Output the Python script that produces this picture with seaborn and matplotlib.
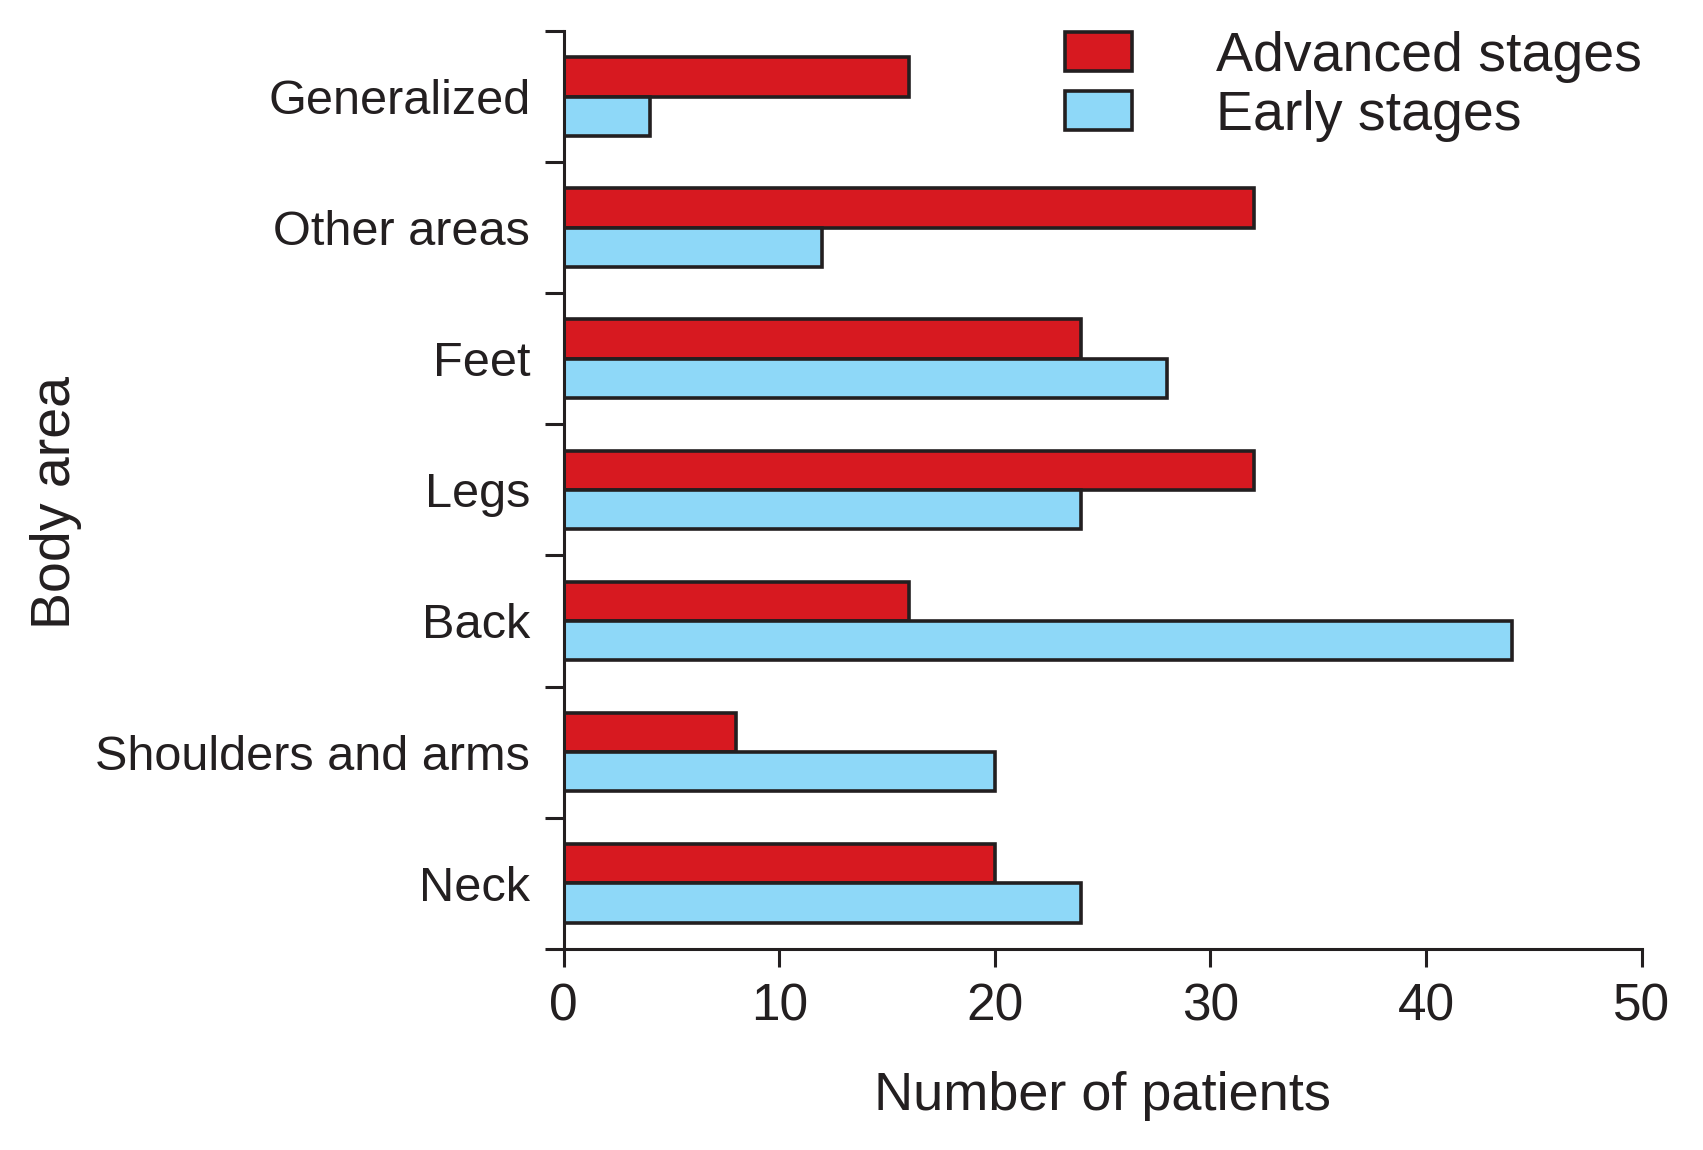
import matplotlib
matplotlib.use("Agg")
import matplotlib.pyplot as plt
import seaborn as sns
import pandas as pd
from matplotlib.ticker import FixedLocator

# dados
areas = ["Generalized", "Other areas", "Feet", "Legs", "Back", "Shoulders and arms", "Neck"]
advanced = [16, 32, 24, 32, 16, 8, 20]
early = [4, 12, 28, 24, 44, 20, 24]
stages = ["Advanced stages", "Early stages"]
x_ticks = [0, 10, 20, 30, 40, 50]

df = pd.DataFrame({
    "area": areas * 2,
    "stage": [stages[0]] * len(areas) + [stages[1]] * len(areas),
    "n": advanced + early,
})

sns.set_style("ticks")
plt.rcParams['font.family'] = ['Liberation Sans', 'DejaVu Sans']
ink = "#231F20"

fig = plt.figure(figsize=(17.03, 11.5), dpi=100)
ax = fig.add_axes([0.331, 0.175, 0.633, 0.798])

sns.barplot(data=df, x="n", y="area", hue="stage", order=areas, hue_order=stages,
            palette=["#D71920", "#8ED8F8"], width=0.6, orient="h",
            edgecolor=ink, linewidth=2.6, saturation=1, ax=ax)

ax.set_xlim(0, 50)
ax.set_ylim(len(areas) - 0.5, -0.5)
ax.set_xticks(x_ticks)
ax.yaxis.set_minor_locator(FixedLocator([i - 0.5 for i in range(len(areas) + 1)]))

for s in ["top", "right"]:
    ax.spines[s].set_visible(False)
for s in ["left", "bottom"]:
    ax.spines[s].set_linewidth(2.2)
    ax.spines[s].set_color(ink)

ax.tick_params(axis="y", which="major", length=0, pad=24, labelsize=35, labelcolor=ink)
ax.tick_params(axis="y", which="minor", length=14, width=2.2, color=ink)
ax.tick_params(axis="x", length=12.6, width=2.2, color=ink, pad=12, labelsize=37, labelcolor=ink)

ax.set_xlabel("Number of patients", fontsize=39, color=ink, labelpad=28)
ax.set_ylabel("Body area", fontsize=40, color=ink)
ax.yaxis.set_label_coords(-0.447, 0.486)

ax.legend(loc="upper right", bbox_to_anchor=(1.0, 1.0), frameon=False, fontsize=40,
          handlelength=1.22, handleheight=0.7, handletextpad=1.5, labelspacing=0.12,
          borderpad=0, borderaxespad=0, labelcolor=ink)

fig.savefig("out.png", dpi=100)
